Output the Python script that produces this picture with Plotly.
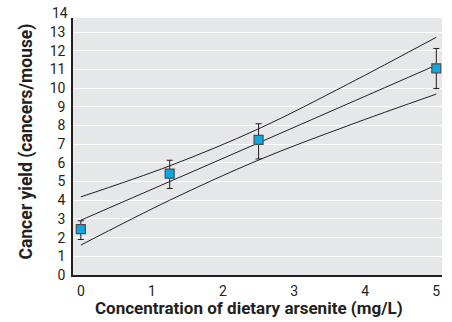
import plotly.graph_objects as go

# Observed data
dose = [0, 1.25, 2.5, 5]
cancer_yield = [2.45, 5.42, 7.23, 11.06]
err_plus = [0.45, 0.72, 0.86, 1.06]
err_minus = [0.55, 0.79, 1.02, 1.08]

# Fitted line and confidence bands
fit_x = [0, 1.25, 2.5, 3.75, 5]
fit_mid = [2.93, 5.0, 7.07, 9.15, 11.23]
fit_upper = [4.18, 5.84, 7.82, 10.2, 12.72]
fit_lower = [1.6, 4.0, 6.15, 7.98, 9.68]

y_ticks = list(range(0, 14))
x_ticks = [0, 1, 2, 3, 4, 5]

FONT = "Roboto, Liberation Sans, sans-serif"
INK = "#231f20"

W, H = 452, 322
L, R, T, B = 73, 10, 18, 47
PW, PH = W - L - R, H - T - B
PLOT_BOTTOM = H - B
Y_MAX = 13.75

fig = go.Figure()
for ys in (fit_upper, fit_mid, fit_lower):
    fig.add_trace(go.Scatter(x=fit_x, y=ys, mode="lines",
                             line=dict(color=INK, width=1, shape="spline", smoothing=1.0),
                             showlegend=False, hoverinfo="skip"))

fig.add_trace(go.Scatter(
    x=dose, y=cancer_yield, mode="markers",
    marker=dict(symbol="square", size=9, color="#0aa8e4", line=dict(color="#4d4d4f", width=1.2)),
    error_y=dict(type="data", array=err_plus, arrayminus=err_minus, color=INK, thickness=1, width=3),
    showlegend=False, cliponaxis=False))

fig.update_layout(
    width=W, height=H,
    margin=dict(l=L, r=R, t=T, b=B, autoexpand=False),
    paper_bgcolor="white", plot_bgcolor="#e6e7e8",
    font=dict(family=FONT, color=INK, size=14),
    xaxis=dict(range=[-0.11, 5.08], tickvals=x_ticks, showgrid=False, zeroline=False, automargin=False,
               showline=True, linecolor=INK, linewidth=1.5, ticks="", ticklabelstandoff=2,
               tickfont=dict(size=14, family=FONT)),
    yaxis=dict(range=[0, Y_MAX], tickvals=y_ticks, showgrid=True, gridcolor="white", gridwidth=1.2,
               zeroline=False, showline=True, linecolor=INK, linewidth=1.5, ticks="", automargin=False,
               ticklabelstandoff=3, tickfont=dict(size=14, family=FONT)),
)
# top tick label "14" sits just above the plotting area
fig.add_annotation(x=0, xref="paper", y=14 / Y_MAX, yref="paper",
                   text="14", showarrow=False, xanchor="right", yanchor="middle", xshift=-3,
                   font=dict(size=14, family=FONT, color=INK))
fig.add_annotation(x=(248.5 - L) / PW, xref="paper", y=(PLOT_BOTTOM - 308) / PH, yref="paper",
                   text="<b>Concentration of dietary arsenite (mg/L)</b>", showarrow=False,
                   xanchor="center", yanchor="middle", font=dict(size=17, family=FONT, color=INK))
fig.add_annotation(x=(26 - L) / PW, xref="paper", y=(PLOT_BOTTOM - 141.5) / PH, yref="paper",
                   text="<b>Cancer yield (cancers/mouse)</b>", showarrow=False, textangle=-90,
                   xanchor="center", yanchor="middle", font=dict(size=17.5, family=FONT, color=INK))

fig.write_html("out.html", post_script="document.body.style.margin='0';",
               config={"displayModeBar": False})
